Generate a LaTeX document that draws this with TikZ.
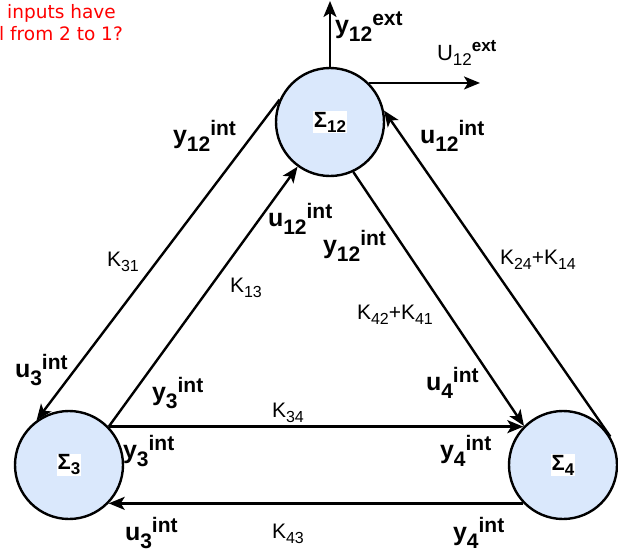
\documentclass[tikz,border=0pt]{standalone}
\usepackage{fontspec}
\setmainfont{Liberation Sans}
\newfontfamily\redfont{DejaVu Sans}
\usetikzlibrary{arrows.meta}
\definecolor{sysfill}{HTML}{DAE8FC}
\definecolor{qred}{HTML}{FF0000}
\newcommand{\bl}[3]{{\bfseries\fontsize{25}{25}\selectfont #1}{\bfseries\fontsize{21}{21}\selectfont\raisebox{-8pt}{#2}\raisebox{8pt}{#3}}}
\newcommand{\kk}[1]{K\raisebox{-5pt}{\fontsize{16}{16}\selectfont #1}}
\newcommand{\sig}[1]{\colorbox{white}{\bfseries\fontsize{22}{22}\selectfont Σ\raisebox{-5pt}{\fontsize{17}{17}\selectfont #1}}}
\begin{document}
\begin{tikzpicture}[x=1pt,y=-1pt,
  sys/.style={circle,draw=black,line width=2.4pt,fill=sysfill,minimum size=108pt,inner sep=0pt},
  conn/.style={line width=2.4pt,-{Stealth[length=16pt,width=13pt,inset=4pt]}},
  lab/.style={anchor=base west,inner sep=0pt,outer sep=0pt},
  klab/.style={anchor=base west,inner sep=0pt,outer sep=0pt,font=\fontsize{21}{21}\selectfont},
  sigl/.style={inner sep=0pt,fill=none},
  redtxt/.style={anchor=base west,inner sep=0pt,text=qred,font=\redfont\fontsize{18.5}{22}\selectfont}]
\useasboundingbox (0,0) rectangle (618,552);
% systems
\node[sys] (S12) at (330,122) {};
\node[sys] (S3) at (69,465) {};
\node[sys] (S4) at (563,465) {};
\node[sigl] (t12) at (S12.center) {\setlength{\fboxsep}{1pt}\sig{12}};
\node[sigl] (t3) at (S3.center) {\setlength{\fboxsep}{1pt}\sig{3}};
\node[sigl] (t4) at (S4.center) {\setlength{\fboxsep}{1pt}\sig{4}};
% free ends
\coordinate (ytop) at (330,1);
\coordinate (uext) at (480,83);
% connectors
\draw[conn] (S12.north) -- (ytop);
\draw[conn] (S12.45) -- (S12.45 -| uext);
\draw[conn] (S12.156) -- (S3.126);
\draw[conn] (S3.44) -- (S12.234);
\draw[conn] (S12.295) -- (S4.135);
\draw[conn] (S4.31) -- (S12.12);
\draw[conn] (S3.44) -- (S4.136);
\draw[conn] (S4.224) -- (S3.316);
% labels
\node[lab] (yext) at (335,33) {\bl{y}{12}{ext}};
\node[lab] (Uext) at (437,60) {{\fontsize{22}{22}\selectfont U}{\fontsize{17}{17}\selectfont\raisebox{-5pt}{12}\raisebox{9pt}{\bfseries ext}}};
\node[lab] (l1) at (173,143) {\bl{y}{12}{int}};
\node[lab] (l2) at (420,143) {\bl{u}{12}{int}};
\node[lab] (l3) at (268,226) {\bl{u}{12}{int}};
\node[lab] (l4) at (323,253) {\bl{y}{12}{int}};
\node[klab] (k13) at (230,292) {\kk{13}};
\node[klab] (k42) at (357,319) {\kk{42}+\kk{41}};
\node[klab] (k31) at (107,266) {\kk{31}};
\node[klab] (k24) at (500,264) {\kk{24}+\kk{14}};
\node[lab] (l9) at (15,377) {\bl{u}{3}{int}};
\node[lab] (l10) at (152,400) {\bl{y}{3}{int}};
\node[lab] (l11) at (426,390) {\bl{u}{4}{int}};
\node[klab] (k34) at (272,417) {\kk{34}};
\node[lab] (l13) at (123,458) {\bl{y}{3}{int}};
\node[lab] (l14) at (440,458) {\bl{y}{4}{int}};
\node[lab] (l15) at (125,540) {\bl{u}{3}{int}};
\node[klab] (k43) at (272,538) {\kk{43}};
\node[lab] (l17) at (453,540) {\bl{y}{4}{int}};
% red note
\node[redtxt] (q1) at (7,18) {inputs have};
\node[redtxt] (q2) at (-1,40) {l from 2 to 1?};
\end{tikzpicture}
\end{document}
